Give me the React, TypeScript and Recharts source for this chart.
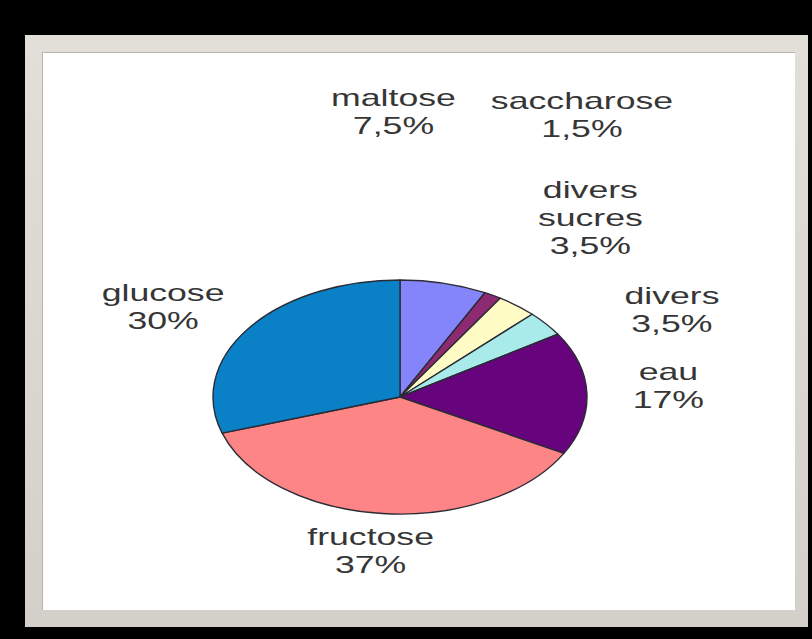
import { Pie, PieChart } from "recharts"

const categories = [
  "maltose",
  "saccharose",
  "divers sucres",
  "divers",
  "eau",
  "fructose",
  "glucose",
]
const shares = [7.5, 1.5, 3.5, 3.5, 17, 37, 30]
const sliceColors = [
  "#8585fb",
  "#8e2a72",
  "#fffcc6",
  "#a9ebea",
  "#66037d",
  "#fe8585",
  "#0a80c6",
]
// small per-label nudges, like the crowded labels in the original
const labelNudge = [
  [-72, -137],
  [43, -150],
  [15, -61],
  [53, 8],
  [-12, -7],
  [-3, 2],
  [-10, -1],
]

const data = categories.map((name, i) => ({
  name,
  value: shares[i],
  fill: sliceColors[i],
}))

const SQUASH = 0.626
const TEXT_STRETCH = 1.55

function EllipseSector(props: any) {
  const { cx, cy, outerRadius, startAngle, endAngle, fill } = props
  const r = outerRadius
  const rad = Math.PI / 180
  const x1 = cx + r * Math.cos(startAngle * rad)
  const y1 = cy - r * SQUASH * Math.sin(startAngle * rad)
  const x2 = cx + r * Math.cos(endAngle * rad)
  const y2 = cy - r * SQUASH * Math.sin(endAngle * rad)
  const delta = endAngle - startAngle
  const large = Math.abs(delta) > 180 ? 1 : 0
  const sweep = delta < 0 ? 1 : 0
  const d = `M${cx},${cy} L${x1},${y1} A${r},${r * SQUASH} 0 ${large} ${sweep} ${x2},${y2} Z`
  return (
    <path
      d={d}
      fill={fill}
      stroke="#2b2b35"
      strokeWidth={1.4}
      strokeLinejoin="round"
    />
  )
}

function SliceLabel(props: any) {
  const { cx, cy, midAngle, outerRadius, index, name, value } = props
  const rad = Math.PI / 180
  const [nx, ny] = labelNudge[index]
  const x = cx + outerRadius * 1.5 * Math.cos(midAngle * rad) + nx
  const y =
    cy - outerRadius * SQUASH * 1.3 * Math.sin(midAngle * rad) + ny
  const lines = [
    ...String(name).split(" "),
    `${String(value).replace(".", ",")}%`,
  ]
  const lineHeight = 28
  const top = -((lines.length - 1) * lineHeight) / 2
  return (
    <text
      transform={`translate(${x} ${y}) scale(${TEXT_STRETCH} 1)`}
      textAnchor="middle"
      dominantBaseline="central"
      fontFamily="'Liberation Sans', Arial, sans-serif"
      fontSize={23}
      fill="#363636"
    >
      {lines.map((line, i) => (
        <tspan key={i} x={0} y={top + i * lineHeight}>
          {line}
        </tspan>
      ))}
    </text>
  )
}

export default function App() {
  return (
    <div
      style={{
        position: "absolute",
        left: 0,
        top: 0,
        width: 812,
        height: 639,
        background: "#000",
        overflow: "hidden",
      }}
    >
      <div
        style={{
          position: "absolute",
          left: 25,
          top: 35,
          width: 783,
          height: 592,
          background: "linear-gradient(#e2dfd9, #d3d0c9)",
        }}
      />
      <div
        style={{
          position: "absolute",
          left: 42,
          top: 52,
          width: 753,
          height: 558,
          background: "#fff",
          boxShadow: "inset 1px 1px 0 #b8b5ae",
        }}
      />
      <div style={{ position: "absolute", left: 0, top: 0 }}>
        <PieChart
          width={812}
          height={639}
          margin={{ top: 0, right: 0, bottom: 0, left: 0 }}
        >
          <Pie
            data={data}
            dataKey="value"
            nameKey="name"
            cx={400}
            cy={397}
            outerRadius={187}
            startAngle={90}
            endAngle={-270}
            stroke="#2b2b35"
            shape={EllipseSector}
            label={SliceLabel}
            labelLine={false}
            isAnimationActive={false}
          />
        </PieChart>
      </div>
    </div>
  )
}
